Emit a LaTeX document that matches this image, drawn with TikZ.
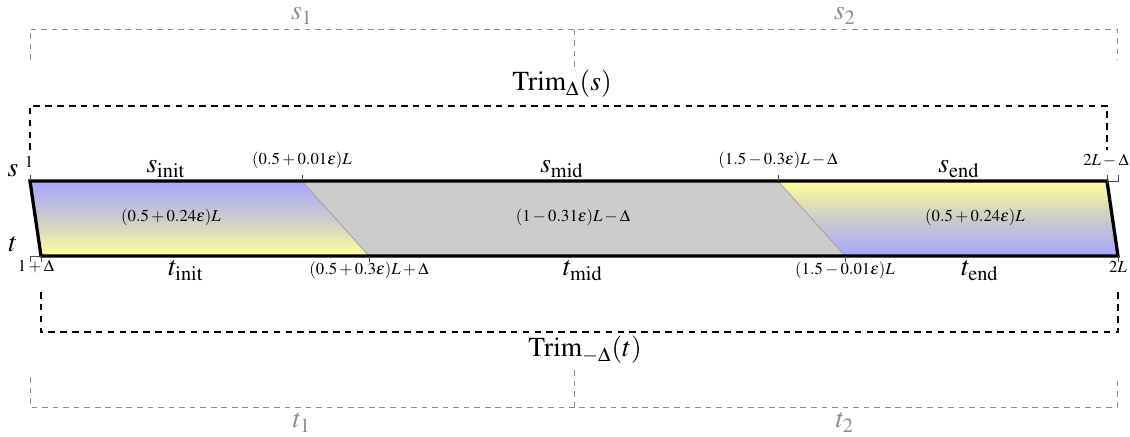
\documentclass[tikz,border=0pt]{standalone}
\usepackage{mathptmx}

\begin{document}
\begin{tikzpicture}[x=0.016cm,y=-0.016cm,
  big/.style={font=\fontsize{12.5}{15}\selectfont,inner sep=0pt,anchor=base},
  small/.style={font=\fontsize{7.6}{9}\selectfont,inner sep=0pt,anchor=base},
  faint/.style={big,text=black!45},
  outline/.style={line width=1.5pt,line join=miter},
  trimbox/.style={line width=1.1pt,dash pattern=on 3pt off 2.4pt},
  partbox/.style={black!45,line width=0.45pt,dash pattern=on 2.6pt off 2.2pt},
  tick/.style={black!70,line width=0.4pt},
  split/.style={black!40,line width=0.3pt}]
\useasboundingbox (0,0) rectangle (1130,437);
% corners of s (top) and t (bottom)
\coordinate (sA) at (30,181);  \coordinate (sB) at (302,181);
\coordinate (sC) at (778,181); \coordinate (sD) at (1107,181);
\coordinate (tA) at (41,256);  \coordinate (tB) at (369,256);
\coordinate (tC) at (845,256); \coordinate (tD) at (1118,256);

\shade[top color=blue!35,bottom color=yellow!40,middle color=gray!40] (sA)--(sB)--(tB)--(tA)--cycle;
\fill[gray!40] (sB)--(sC)--(tC)--(tB)--cycle;
\shade[top color=yellow!40,bottom color=blue!35,middle color=gray!40] (sC)--(sD)--(tD)--(tC)--cycle;
\draw[split] (sB)--(tB) (sC)--(tC);
\draw[outline] (sA)--(sD)--(tD)--(tA)--cycle;

\draw[tick] (sA)--++(0,-6);
\draw[tick] (sB)--++(0,-6);
\draw[tick] (sC)--++(0,-6);
\draw[tick] (sD) ++(0,-6)--(sD)--++(11,0)--++(0,-6);
\draw[tick] (tA) ++(-11,6)--++(0,-6)--(tA)--++(0,6);
\draw[tick] (tB)--++(0,6);
\draw[tick] (tC)--++(0,6);
\draw[tick] (tD)--++(0,6);

\node[small] (kA) at (29,168) {$1$};
\node[small] (kB) at (302,165) {$(0.5+0.01\varepsilon)L$};
\node[small] (kC) at (778,165) {$(1.5-0.3\varepsilon)L-\Delta$};
\node[small] (kD) at (1106,166) {$2L-\Delta$};
\node[small] (mA) at (36,272) {$1+\Delta$};
\node[small] (mB) at (369,275) {$(0.5+0.3\varepsilon)L+\Delta$};
\node[small] (mC) at (845,275) {$(1.5-0.01\varepsilon)L$};
\node[small] (mD) at (1118,273) {$2L$};

\node[small] (rInit) at (171,222) {$(0.5+0.24\varepsilon)L$};
\node[small] (rMid) at (573,222) {$(1-0.31\varepsilon)L-\Delta$};
\node[small] (rEnd) at (975,222) {$(0.5+0.24\varepsilon)L$};

\node[big] (s) at (13,177) {$s$};
\node[big] (t) at (13,252) {$t$};
\node[big] (sInit) at (166,173) {$s_{\mathrm{init}}$};
\node[big] (sMid) at (562,173) {$s_{\mathrm{mid}}$};
\node[big] (sEnd) at (959,173) {$s_{\mathrm{end}}$};
\node[big] (tInit) at (186,276) {$t_{\mathrm{init}}$};
\node[big] (tMid) at (583,276) {$t_{\mathrm{mid}}$};
\node[big] (tEnd) at (980,276) {$t_{\mathrm{end}}$};

\draw[trimbox] (30,150) |- (1107,106) -- (1107,150);
\draw[trimbox] (41,292) |- (1118,332) -- (1118,292);
\node[big] (trimS) at (562,91) {$\mathrm{Trim}_\Delta(s)$};
\node[big] (trimT) at (585,357) {$\mathrm{Trim}_{-\Delta}(t)$};

\draw[partbox] (30,60) |- (574,29);
\draw[partbox] (574,67) |- (1117,29) -- (1117,60);
\draw[partbox] (30,377) |- (574,407);
\draw[partbox] (574,370) |- (1117,407) -- (1117,377);
\node[faint] (s1) at (302,20) {$s_1$};
\node[faint] (s2) at (845,20) {$s_2$};
\node[faint] (t1) at (302,428) {$t_1$};
\node[faint] (t2) at (845,428) {$t_2$};
\end{tikzpicture}
\end{document}
